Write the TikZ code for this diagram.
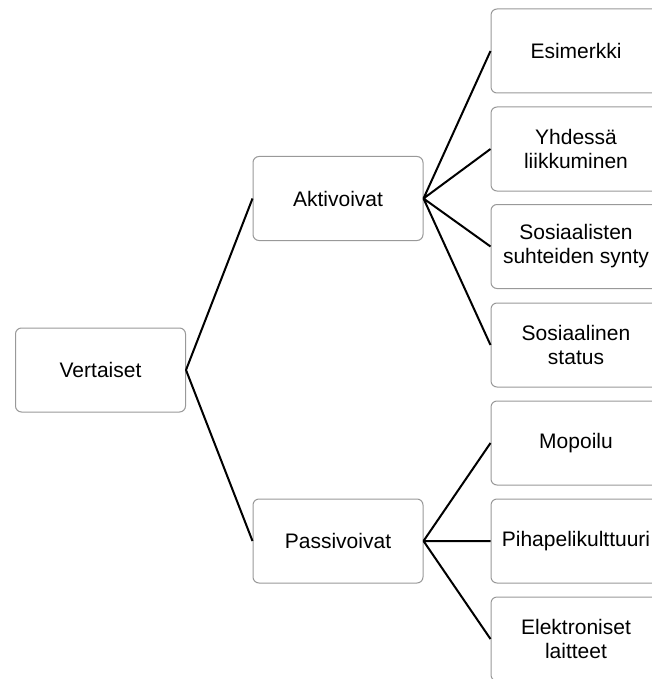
\documentclass[tikz,border=0pt]{standalone}
\usepackage{fontspec}
\setmainfont{Liberation Sans}
\usepackage{tikz}

\begin{document}
\begin{tikzpicture}[x=1pt, y=-1pt,
            box/.style={draw=black!40, line width=1pt, rounded corners=6pt, fill=white,
                minimum width=170pt, minimum height=84pt, inner sep=0pt, align=center,
                font=\fontsize{21}{24}\selectfont}]
            \useasboundingbox (0, 0) rectangle (651, 679);
            \node[box] (1) at (100.5, 370) {Vertaiset};
            \node[box] (2) at (338, 198.5) {Aktivoivat};
            \node[box] (3) at (338, 541) {Passivoivat};
            \node[box] (4) at (576, 51) {Esimerkki};
            \node[box] (5) at (576, 149) {Yhdessä\\liikkuminen};
            \node[box] (6) at (576, 246.5) {Sosiaalisten\\suhteiden synty};
            \node[box] (7) at (576, 345) {Sosiaalinen\\status};
            \node[box] (8) at (576, 443) {Mopoilu};
            \node[box] (9) at (576, 541) {Pihapelikulttuuri};
            \node[box] (10) at (576, 639) {Elektroniset\\laitteet};
            \draw[line width=2pt]
            (1.east) -- (2.west)
            (1.east) -- (3.west)
            (2.east) -- (4.west)
            (2.east) -- (5.west)
            (2.east) -- (6.west)
            (2.east) -- (7.west)
            (3.east) -- (8.west)
            (3.east) -- (9.west)
            (3.east) -- (10.west);
        \end{tikzpicture}
\end{document}
